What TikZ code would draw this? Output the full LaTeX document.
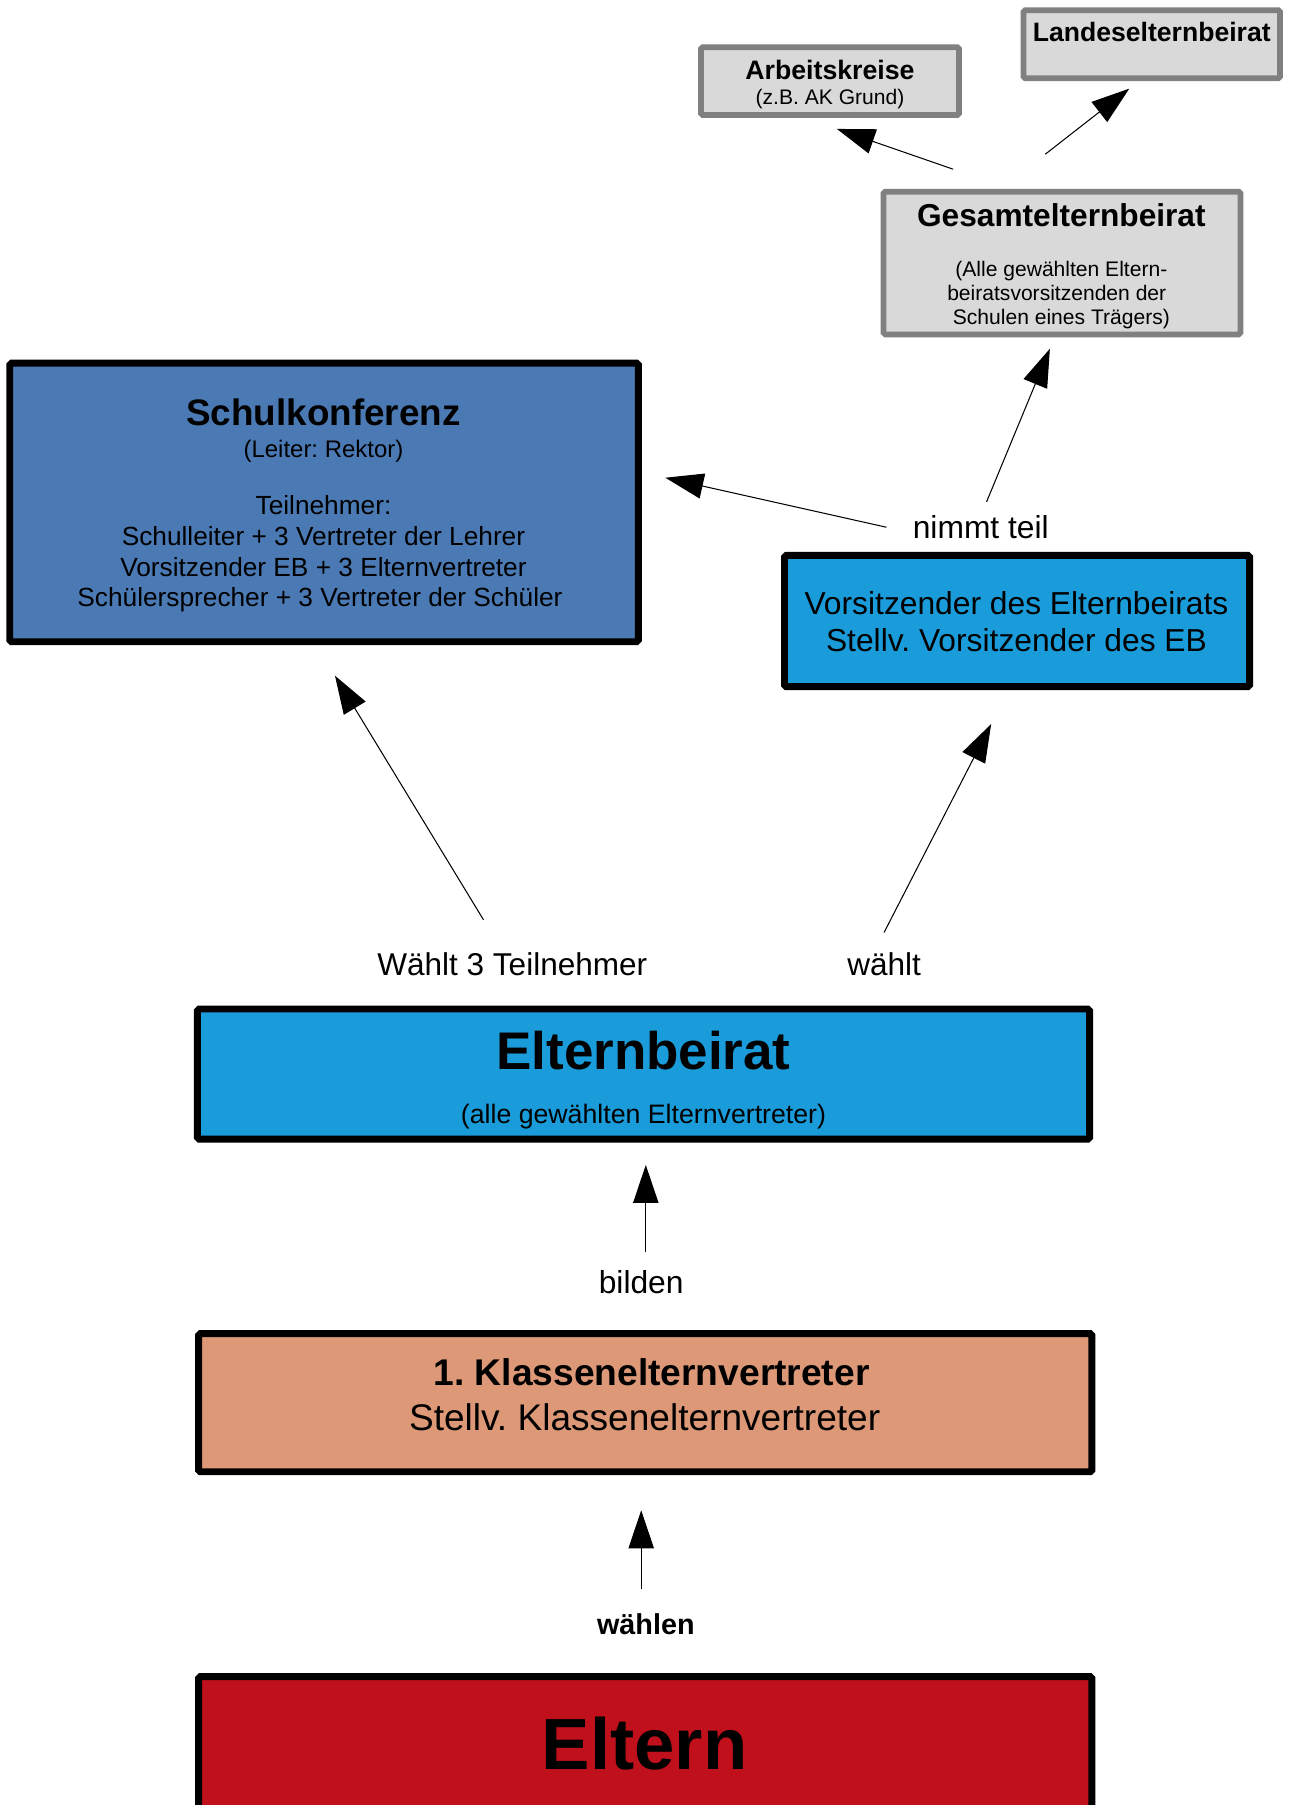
\documentclass[tikz,border=0pt]{standalone}
\usepackage{fontspec}
\setmainfont{Liberation Sans}
\usetikzlibrary{arrows.meta}
\frenchspacing
\definecolor{skblue}{HTML}{4A79B3}
\definecolor{lblue}{HTML}{1A9CDB}
\definecolor{salmon}{HTML}{DD9977}
\definecolor{eltred}{HTML}{C0101C}
\definecolor{lgray}{HTML}{D9D9D9}
\definecolor{mgray}{HTML}{808080}
\tikzset{
  box/.style={draw=black, line width=6pt, rounded corners=1.5pt, inner sep=0pt, outer sep=0pt},
  gbox/.style={draw=mgray, fill=lgray, line width=5pt, rounded corners=1.5pt, inner sep=0pt, outer sep=0pt},
  txt/.style={anchor=base, inner sep=0pt, font=\fontsize{#1}{#1}\selectfont},
  btxt/.style={anchor=base, inner sep=0pt, font=\fontsize{#1}{#1}\selectfont\bfseries},
  arr/.style={line width=0.9pt, -{Triangle[length=33pt,width=22pt]}},
}
\begin{document}
\begin{tikzpicture}[x=1pt,y=-1pt]
\useasboundingbox (0,0) rectangle (1120,1568);
\clip (0,0) rectangle (1120,1568);
\fill[white] (0,0) rectangle (1120,1568);

% boxes
\node[gbox, minimum width=224pt, minimum height=59pt] (ak) at (721,70.5) {};
\node[gbox, minimum width=223pt, minimum height=59pt] (leb) at (1000.5,38.5) {};
\node[gbox, minimum width=310pt, minimum height=124pt] (geb) at (922.5,228.5) {};
\node[box, fill=skblue, minimum width=546pt, minimum height=242pt] (sk) at (281.5,436.5) {};
\node[box, fill=lblue, minimum width=404pt, minimum height=114pt] (vors) at (883.5,539.5) {};
\node[box, fill=lblue, minimum width=775pt, minimum height=113pt] (eb) at (559,933) {};
\node[box, fill=salmon, minimum width=776pt, minimum height=120pt] (kev) at (560.5,1218.5) {};
\node[box, fill=eltred, minimum width=776pt, minimum height=166pt] (elt) at (560.5,1539.5) {};

% texts
\node[btxt=23.2] (akt) at (721,69) {Arbeitskreise};
\node[txt=18.3] (aks) at (721,91) {(z.B. AK Grund)};
\node[btxt=23.1] (lebt) at (1000.5,36) {Landeselternbeirat};
\node[btxt=27.5] (gebt) at (922,197) {Gesamtelternbeirat};
\node[txt=18.3] (geb1) at (922,240) {(Alle gewählten Eltern-};
\node[txt=18.3] (geb2) at (918,261) {beiratsvorsitzenden der};
\node[txt=18.3] (geb3) at (922,282) {Schulen eines Trägers)};
\node[btxt=32] (skt) at (281,370) {Schulkonferenz};
\node[txt=20.8] (skl) at (281,397) {(Leiter: Rektor)};
\node[txt=22.8] (sk1) at (281,447) {Teilnehmer:};
\node[txt=22.8] (sk2) at (281,474) {Schulleiter + 3 Vertreter der Lehrer};
\node[txt=22.8] (sk3) at (281,501) {Vorsitzender EB + 3 Elternvertreter};
\node[txt=22.8] (sk4) at (278,527) {Schülersprecher + 3 Vertreter der Schüler};
\node[txt=27.6] (v1) at (883,534) {Vorsitzender des Elternbeirats};
\node[txt=27.6] (v2) at (883,566) {Stellv. Vorsitzender des EB};
\node[txt=27.6] (lnt) at (852,468) {nimmt teil};
\node[txt=27.4] (lw3) at (445,847) {Wählt 3 Teilnehmer};
\node[txt=27.4] (lw) at (768,847) {wählt};
\node[btxt=46] (ebt) at (559,929) {Elternbeirat};
\node[txt=23.2] (ebs) at (559,976) {(alle gewählten Elternvertreter)};
\node[txt=27.6] (lb) at (557,1124) {bilden};
\node[btxt=32.3] (k1) at (566,1204) {1. Klassenelternvertreter};
\node[txt=32.2] (k2) at (560,1243) {Stellv. Klassenelternvertreter};
\node[btxt=25] (lwa) at (561,1420) {wählen};
\node[btxt=63] (eltt) at (560,1537) {Eltern};

% connector ends
\coordinate (a1s) at (828,147);  \coordinate (a1e) at (727,112);
\coordinate (a2s) at (908,134);  \coordinate (a2e) at (981,77);
\coordinate (a3s) at (857,436);  \coordinate (a3e) at (912,303);
\coordinate (a4s) at (770,458);  \coordinate (a4e) at (578,415);
\coordinate (a5s) at (420,799);  \coordinate (a5e) at (291,587);
\coordinate (a6s) at (768,810);  \coordinate (a6e) at (861,629);
\coordinate (a7s) at (561,1088); \coordinate (a7e) at (561,1012);
\coordinate (a8s) at (557,1380); \coordinate (a8e) at (557,1312);

\draw[arr] (a1s) -- (a1e);
\draw[arr] (a2s) -- (a2e);
\draw[arr] (a3s) -- (a3e);
\draw[arr] (a4s) -- (a4e);
\draw[arr] (a5s) -- (a5e);
\draw[arr] (a6s) -- (a6e);
\draw[arr] (a7s) -- (a7e);
\draw[arr] (a8s) -- (a8e);
\end{tikzpicture}
\end{document}
